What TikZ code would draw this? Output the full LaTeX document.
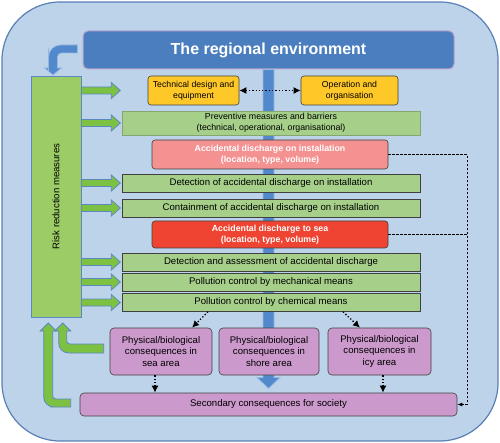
\documentclass[tikz,border=0pt]{standalone}
\usepackage{fontspec}
\setmainfont{Liberation Sans}
\usepackage{graphicx}
\usetikzlibrary{arrows.meta}
\definecolor{bgblue}{HTML}{BDD3EA}
\definecolor{frameblue}{HTML}{5A80B5}
\definecolor{titleblue}{HTML}{4A7EBF}
\definecolor{titleedge}{HTML}{B8A2CC}
\definecolor{barblue}{HTML}{5289CD}
\definecolor{riskgreen}{HTML}{9CCC65}
\definecolor{arrowgreen}{HTML}{7DC143}
\definecolor{arrowedge}{HTML}{5B88C2}
\definecolor{boxgreen}{HTML}{A6D08A}
\definecolor{boxorange}{HTML}{FFC829}
\definecolor{boxpink}{HTML}{F49191}
\definecolor{boxred}{HTML}{EE4431}
\definecolor{boxviolet}{HTML}{CC99CC}
\begin{document}
\begin{tikzpicture}[x=1pt,y=-1pt,
    every node/.style={align=center,inner sep=1pt,font=\fontsize{9.6}{11.6}\selectfont},
    box/.style={draw=black!75,line width=0.6pt},
    gbox/.style={box,fill=boxgreen,minimum width=298pt,minimum height=18pt},
    obox/.style={box,fill=boxorange,rounded corners=3pt,minimum height=29pt,font=\fontsize{8.7}{11}\selectfont},
    abox/.style={box,rounded corners=3pt,minimum width=236pt,text=white,font=\bfseries\fontsize{8.8}{11.5}\selectfont},
    vbox/.style={box,fill=boxviolet,rounded corners=4pt,minimum height=47pt},
    garrow/.style={draw=arrowedge,fill=arrowgreen,line width=0.8pt},
    barrow/.style={draw=barblue!60!white,fill=barblue,line width=0.8pt},
    dotarrow/.style={line width=1.3pt,dotted,-{Latex[length=7pt,width=7pt]}},
    dashline/.style={line width=0.7pt,dash pattern=on 2.5pt off 1.5pt,-{Latex[length=5pt,width=4pt]}}]
    \useasboundingbox (0,0) rectangle (500,443);
    \draw[draw=frameblue,fill=bgblue,line width=1.2pt,rounded corners=58pt] (2,2) rectangle (498,441);
    % title and the flow through it
    \node[draw=titleedge,fill=titleblue,line width=1pt,rounded corners=5pt,minimum width=371pt,minimum height=38pt,text=white,font=\bfseries\fontsize{16}{19}\selectfont] (title) at (268.5,50) {The regional environment};
    \draw[barrow] ([xshift=-5.5pt]title.south) -- ++(0,308) -- ++(-6,0) -- ++(11.5,11) -- ++(11.5,-11) -- ++(-6,0) -- ++(0,-308) -- cycle;
    \draw[barrow] ([xshift=-5pt]title.west) ++(0,-5) [rounded corners=12pt] -- ++(-29,0) -- ++(0,15) [sharp corners] -- ++(0,8) -- ++(-4,0) -- ++(8.5,7) -- ++(8.5,-7) -- ++(-4,0) -- ++(0,-7) [rounded corners=4pt] -- ++(0,-8) -- ++(12,0) [sharp corners] -- ++(8,0) -- cycle;
    % boxes
    \node[box,draw=arrowedge,fill=riskgreen,minimum width=50pt,minimum height=241pt] (risk) at (56,196.5) {\rotatebox{90}{Risk reduction measures}};
    \node[obox,minimum width=91pt] (tech) at (193.5,90.5) {Technical design and\\equipment};
    \node[obox,minimum width=97pt] (oper) at (349.5,90.5) {Operation and\\organisation};
    \node[gbox,draw=boxgreen!80!black,minimum height=24pt,font=\fontsize{8.8}{11}\selectfont] (prev) at (271,123) {Preventive measures and barriers\\(technical, operational, organisational)};
    \node[abox,fill=boxpink,minimum height=29pt] (accinst) at (270,154.5) {Accidental discharge on installation\\(location, type, volume)};
    \node[gbox] (detinst) at (271,183) {Detection of accidental discharge on installation};
    \node[gbox] (contain) at (271,208) {Containment of accidental discharge on installation};
    \node[abox,fill=boxred,minimum height=27pt] (accsea) at (270,234.5) {Accidental discharge to sea\\(location,\ type, volume)};
    \node[gbox] (detass) at (271,262) {Detection and assessment of accidental discharge};
    \node[gbox] (mech) at (271,282) {Pollution control by mechanical means};
    \node[gbox] (chem) at (271,302.5) {Pollution control by chemical means};
    \node[vbox,minimum width=102pt] (sea) at (161,351.5) {Physical/biological\\consequences in\\sea area};
    \node[vbox,minimum width=100pt] (shore) at (269,351.5) {Physical/biological\\consequences in\\shore area};
    \node[vbox,minimum width=103pt] (icy) at (379.5,351.5) {Physical/biological\\consequences in\\icy area};
    \node[vbox,minimum width=377pt,minimum height=23pt] (second) at (268.5,404.5) {Secondary consequences for society};
    % risk reduction arrows
    \foreach \n in {tech,prev,detinst,contain,detass,mech,chem}
        \draw[garrow] (risk.east |- \n.west) ++(0,-3.5) -- ++(30,0) -- ++(0,-4.5) -- ++(9,8) -- ++(-9,8) -- ++(0,-4.5) -- ++(-30,0) -- cycle;
    \draw[garrow] ([xshift=-6pt]sea.west) ++(0,-7.5) -- ++(-10,0) [rounded corners=3pt] -- ++(-27,0) -- ++(0,-6) [sharp corners] -- ++(0,-7) -- ++(4,0) -- ++(-8,-8) -- ++(-8,8) -- ++(4,0) -- ++(0,10) [rounded corners=10pt] -- ++(0,12) -- ++(30,0) [sharp corners] -- ++(15,0) -- cycle;
    \draw[garrow] ([xshift=-9pt]second.west) ++(0,-5.5) -- ++(-8,0) [rounded corners=3pt] -- ++(-10,0) -- ++(0,-10) [sharp corners] -- ++(0,-58) -- ++(3.5,0) -- ++(-8,-8) -- ++(-8,8) -- ++(3.5,0) -- ++(0,60) [rounded corners=10pt] -- ++(0,16) -- ++(17,0) [sharp corners] -- ++(10,0) -- cycle;
    % dotted links
    \draw[dotarrow,{Latex[length=7pt,width=7pt]}-{Latex[length=7pt,width=7pt]}] (tech.east) -- (oper.west);
    \draw[dotarrow] ([xshift=-63pt]chem.south) -- ([xshift=31pt]sea.north);
    \draw[dotarrow] ([xshift=72pt]chem.south) -- ([xshift=-19.5pt]icy.north);
    \draw[dotarrow] ([xshift=-6pt]sea.south) -- ([xshift=-6pt]sea.south |- second.north);
    \draw[dotarrow] ([xshift=3.5pt]icy.south) -- ([xshift=3.5pt]icy.south |- second.north);
    % dashed links
    \coordinate (dashx) at (467,0);
    \draw[dashline] (accinst.east) -- (accinst.east -| dashx) |- (second.east);
    \draw[dashline,-] (accsea.east) -- (accsea.east -| dashx);
\end{tikzpicture}
\end{document}
